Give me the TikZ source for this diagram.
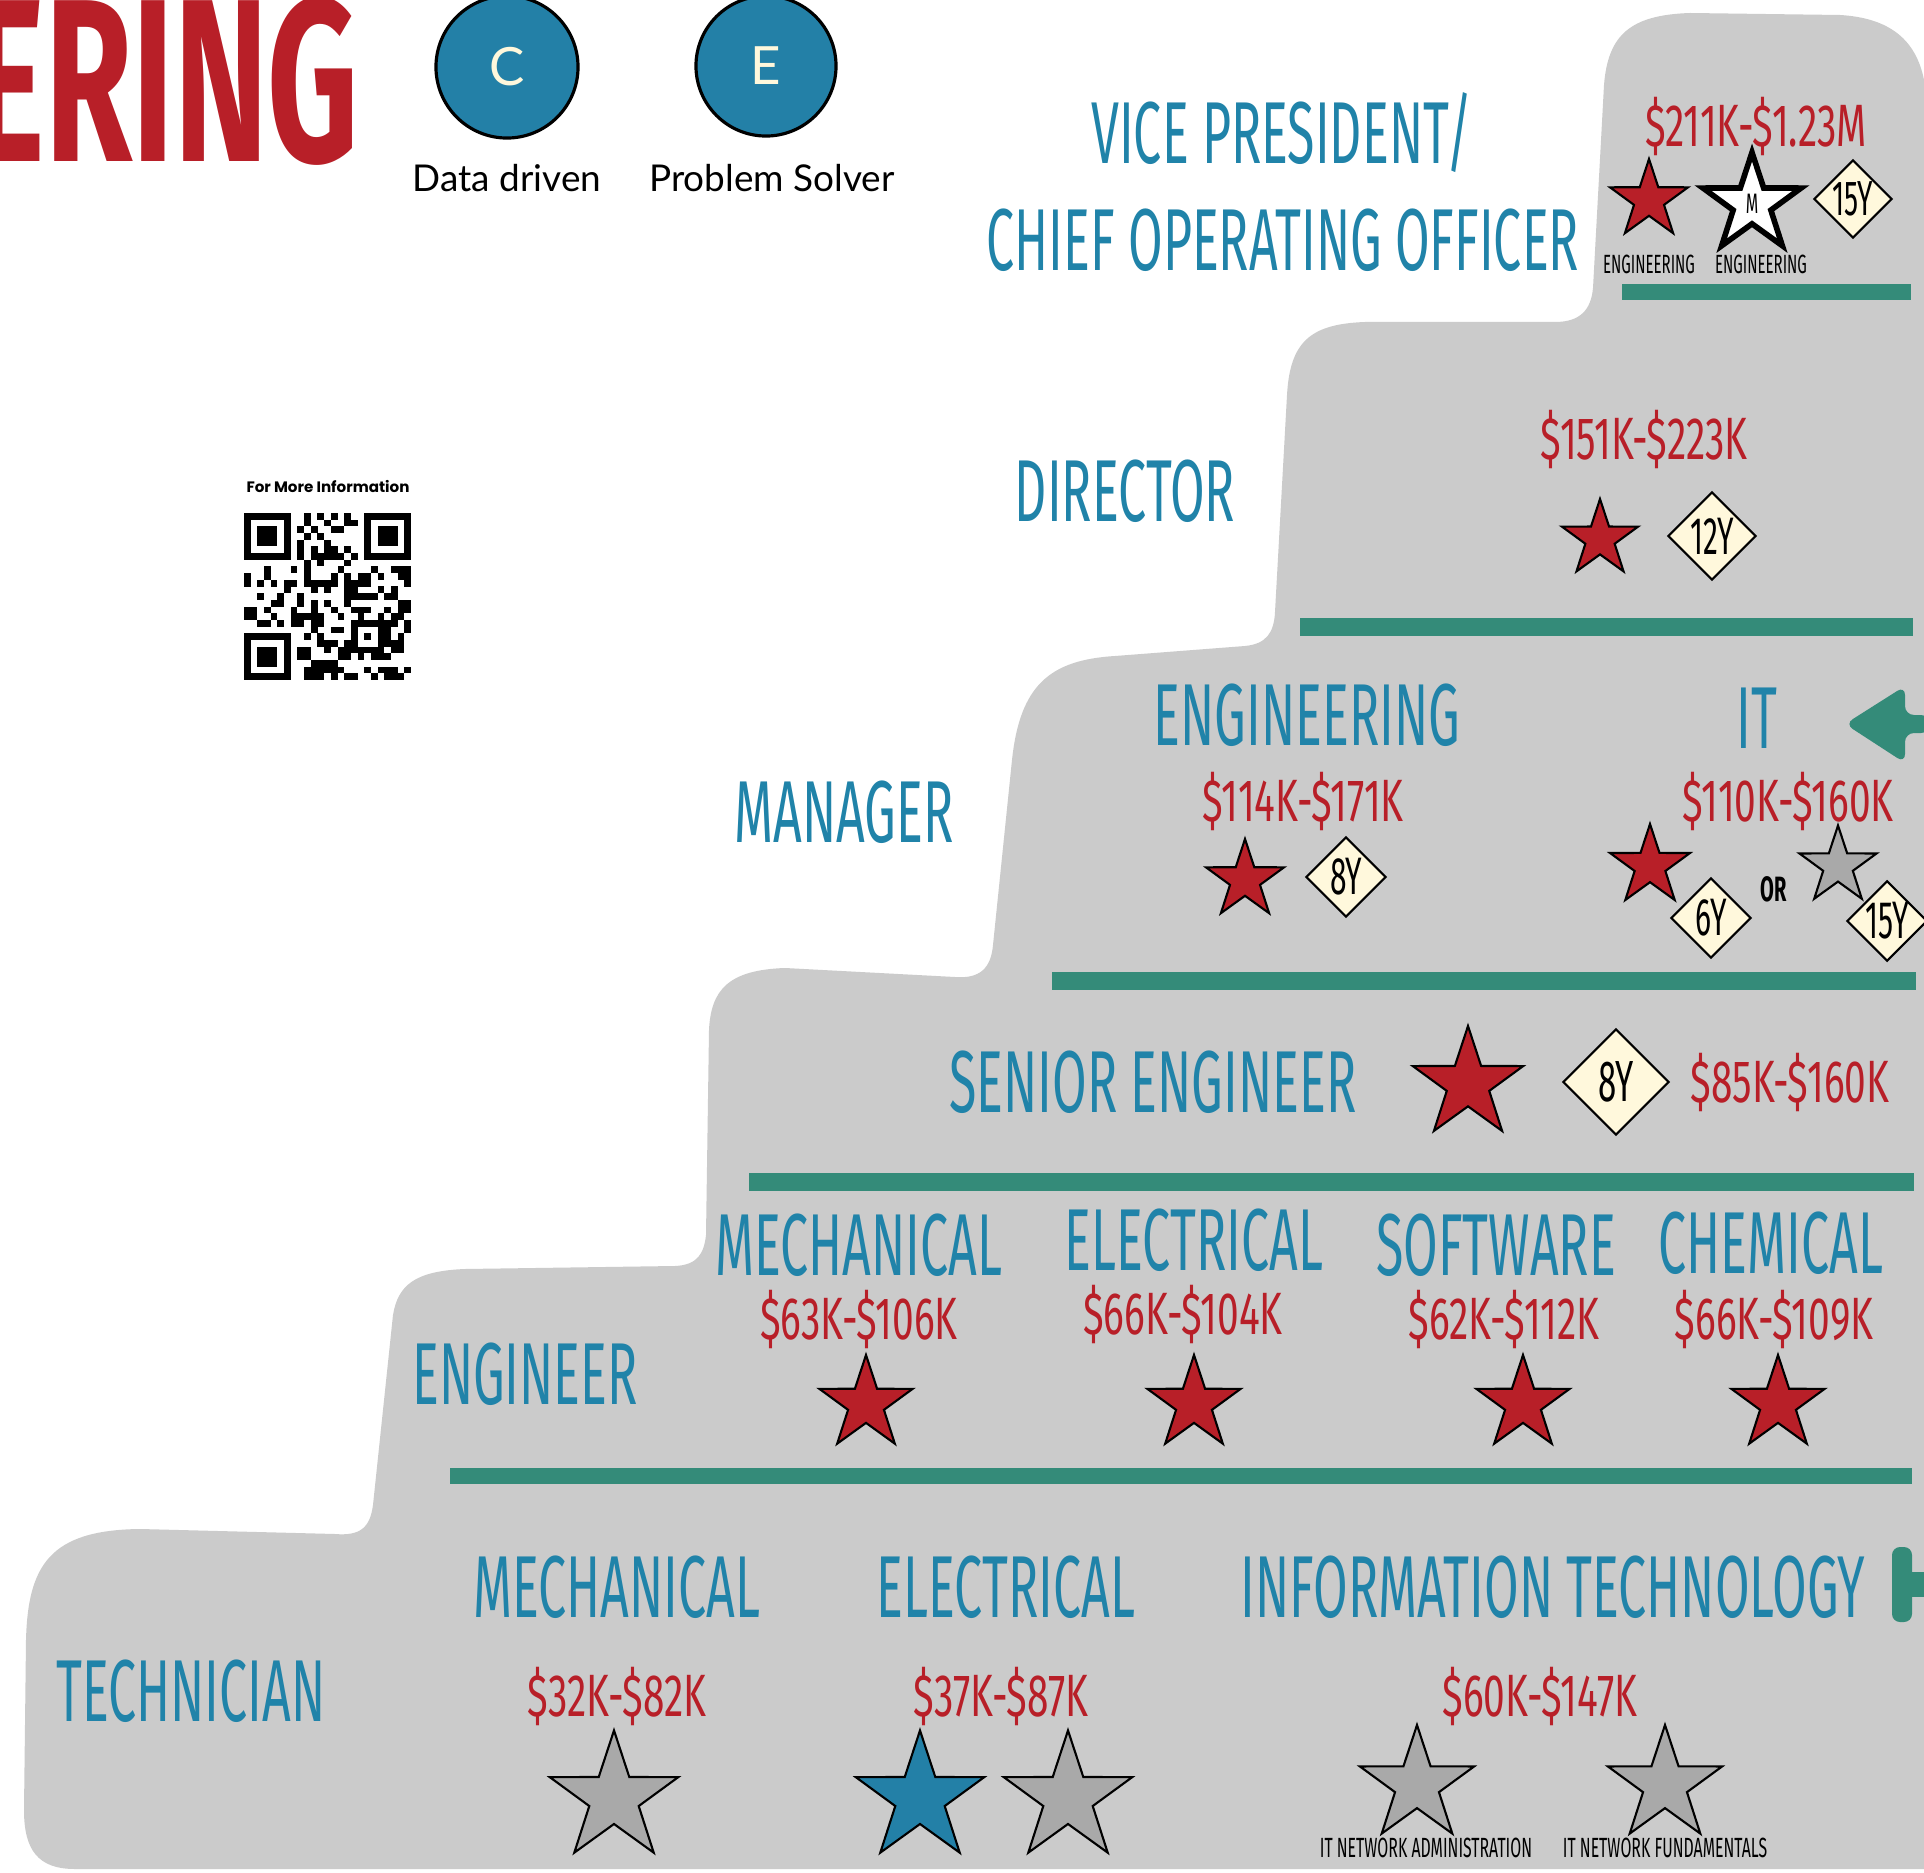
\documentclass[tikz,border=0pt]{standalone}
\usepackage{fontspec}
\setmainfont{Fira Sans}
\newfontfamily\narrowfont{Fira Sans}[FakeStretch=0.57]
\newfontfamily\payfont{Fira Sans}[FakeStretch=0.65]
\newfontfamily\headfont{Fira Sans}[FakeStretch=0.61]
\newfontfamily\traitfont{Lato}
\newfontfamily\qrfont{Poppins}
\usetikzlibrary{shapes.geometric}

\definecolor{stepgray}{HTML}{CBCBCB}
\definecolor{rankblue}{HTML}{2083A9}
\definecolor{payred}{HTML}{B81F28}
\definecolor{bargreen}{HTML}{348B79}
\definecolor{circblue}{HTML}{2380A7}
\definecolor{cream}{HTML}{FFF8DC}
\definecolor{stargray}{HTML}{A9A9A9}

\tikzset{
  ranktitle/.style={text=rankblue, inner sep=0pt, font=\narrowfont\fontsize{25}{30}\selectfont, text height=17.2pt, text depth=0pt},
  paytext/.style={text=payred, inner sep=0pt, font=\payfont\fontsize{17}{21}\selectfont, text height=11.7pt, text depth=0pt},
  starbadge/.style={star, star points=5, star point ratio=2.6, draw=black, line width=0.6pt, inner sep=0pt},
  yearbadge/.style={diamond, aspect=1, draw=black, line width=0.6pt, fill=cream, inner sep=0pt, font=\narrowfont\fontsize{15}{17}\selectfont},
  smalltag/.style={inner sep=0pt, font=\narrowfont\fontsize{7.5}{9}\selectfont},
  greenbar/.style={fill=bargreen},
  skillcircle/.style={circle, draw=black, line width=0.9pt, fill=circblue, text=cream, font=\traitfont\fontsize{15}{18}\selectfont, inner sep=0pt},
}

\begin{document}
\begin{tikzpicture}[x=0.01cm, y=-0.01cm]
\useasboundingbox (0,0) rectangle (1924,1873);
\clip (0,0) rectangle (1924,1873);
\fill[white] (0,0) rectangle (1924,1873);

% staircase
\fill[stepgray] (1924,1869) -- (75,1869)
  .. controls (38,1869) and (24,1850) .. (24,1810)
  -- (26,1640)
  .. controls (28,1565) and (50,1530) .. (140,1529)
  -- (335,1534)
  .. controls (360,1536) and (370,1528) .. (373,1505)
  -- (393,1315)
  .. controls (398,1285) and (415,1271) .. (465,1269)
  -- (675,1266)
  .. controls (698,1265) and (704,1253) .. (706,1235)
  -- (709,1030)
  .. controls (711,990) and (728,970) .. (785,968)
  -- (955,977)
  .. controls (980,979) and (991,968) .. (993,945)
  -- (1012,760)
  .. controls (1020,685) and (1050,660) .. (1115,656)
  -- (1245,646)
  .. controls (1266,644) and (1274,633) .. (1275,612)
  -- (1287,395)
  .. controls (1290,342) and (1310,324) .. (1365,322)
  -- (1555,322)
  .. controls (1580,322) and (1591,310) .. (1593,288)
  -- (1604,85)
  .. controls (1608,35) and (1630,15) .. (1690,13)
  -- (1840,15)
  .. controls (1890,18) and (1916,40) .. (1924,80)
  -- cycle;

% green bars
\fill[greenbar] (1622,284) rectangle (1911,300);
\fill[greenbar] (1300,618) rectangle (1913,636);
\fill[greenbar] (1052,972) rectangle (1916,990);
\fill[greenbar] (749,1173) rectangle (1914,1191);
\fill[greenbar] (450,1468) rectangle (1912,1484);
\fill[greenbar, rounded corners=0.9mm] (1930,715) -- (1905,715) -- (1905,686) -- (1845,724) -- (1905,763) -- (1905,733) -- (1930,733) -- cycle;
\fill[greenbar, rounded corners=0.8mm] (1892,1547) rectangle (1912,1622);
\fill[greenbar] (1905,1572) rectangle (1924,1597);

% header
\node[anchor=base east, inner sep=0pt, text=payred, font=\headfont\bfseries\fontsize{66}{70}\selectfont] (headWord) at (360,162) {ERING};
\node[skillcircle, minimum size=1.42cm] (traitC) at (507,67) {C};
\node[skillcircle, minimum size=1.40cm] (traitE) at (766,66) {E};
\node[inner sep=0pt, font=\traitfont\fontsize{10.5}{12}\selectfont] (traitCText) at (507,178) {Data driven};
\node[inner sep=0pt, font=\traitfont\fontsize{10.5}{12}\selectfont] (traitEText) at (772,178) {Problem Solver};

% qr code
\node[inner sep=0pt, font=\qrfont\bfseries\fontsize{4.3}{5}\selectfont] (qrNote) at (328,487) {For More Information};
\foreach \i in {0,...,24} {
  \foreach \j in {0,...,24} {
    \pgfmathtruncatemacro{\dark}{mod(mod(\i*\i*\j,97)+3*mod(\j*\j*\i,89)+5*\i+11*\j,9)<4}
    \pgfmathtruncatemacro{\finder}{or(or(and(\i<8,\j<8),and(\i>16,\j<8)),or(and(\i<8,\j>16),and(and(\i>15,\i<21),and(\j>15,\j<21))))}
    \ifnum\dark=1 \ifnum\finder=0
      \fill ({244+\i*6.68},{513+\j*6.68}) rectangle ++(6.7,6.7);
    \fi\fi
  }
}
\foreach \qx/\qy in {0/0,18/0,0/18} {
  \fill ({244+\qx*6.68},{513+\qy*6.68}) rectangle ++(46.76,46.76);
  \fill[white] ({244+(\qx+1)*6.68},{513+(\qy+1)*6.68}) rectangle ++(33.4,33.4);
  \fill ({244+(\qx+2)*6.68},{513+(\qy+2)*6.68}) rectangle ++(20.04,20.04);
}
\fill ({244+16*6.68},{513+16*6.68}) rectangle ++(33.4,33.4);
\fill[white] ({244+17*6.68},{513+17*6.68}) rectangle ++(20.04,20.04);
\fill ({244+18*6.68},{513+18*6.68}) rectangle ++(6.68,6.68);

% vice president
\node[ranktitle] (vpTitle) at (1282,133) {VICE PRESIDENT/};
\node[ranktitle] (cooTitle) at (1283,240) {CHIEF OPERATING OFFICER};
\node[paytext] (vpPay) at (1756,126) {\$211K-\$1.23M};
\node[starbadge, fill=payred, minimum size=0.82cm] (vpStar) at (1649,200) {};
\node[starbadge, fill=white, line width=1.6pt, minimum size=1.03cm, font=\narrowfont\fontsize{8}{9}\selectfont] (vpStarM) at (1752,204) {M};
\node[yearbadge, minimum size=0.78cm, font=\narrowfont\fontsize{14}{16}\selectfont] (vpYears) at (1853,199) {15Y};
\node[smalltag] (vpStarTag) at (1649,264) {ENGINEERING};
\node[smalltag] (vpStarMTag) at (1761,264) {ENGINEERING};

% director
\node[ranktitle] (dirTitle) at (1125,491) {DIRECTOR};
\node[paytext] (dirPay) at (1644,439) {\$151K-\$223K};
\node[starbadge, fill=payred, minimum size=0.80cm] (dirStar) at (1600,539) {};
\node[yearbadge, minimum size=0.88cm] (dirYears) at (1712,536) {12Y};

% manager
\node[ranktitle] (mgrTitle) at (844,812) {MANAGER};
\node[ranktitle] (mgrEng) at (1307,715) {ENGINEERING};
\node[ranktitle] (mgrIT) at (1757,718) {IT};
\node[paytext] (mgrEngPay) at (1303,801) {\$114K-\$171K};
\node[paytext] (mgrITPay) at (1788,801) {\$110K-\$160K};
\node[starbadge, fill=payred, minimum size=0.82cm] (mgrEngStar) at (1245,880) {};
\node[yearbadge, minimum size=0.80cm] (mgrEngYears) at (1346,877) {8Y};
\node[starbadge, fill=payred, minimum size=0.84cm] (mgrITStar) at (1650,866) {};
\node[yearbadge, minimum size=0.80cm] (mgrITYears) at (1711,918) {6Y};
\node[inner sep=0pt, font=\narrowfont\bfseries\fontsize{10}{12}\selectfont] (mgrOr) at (1774,889) {OR};
\node[starbadge, fill=stargray, minimum size=0.81cm] (mgrAltStar) at (1838,866) {};
\node[yearbadge, minimum size=0.80cm] (mgrAltYears) at (1887,921) {15Y};

% senior engineer
\node[ranktitle] (srTitle) at (1153,1082) {SENIOR ENGINEER};
\node[starbadge, fill=payred, minimum size=1.16cm] (srStar) at (1468,1084) {};
\node[yearbadge, minimum size=1.06cm, font=\narrowfont\fontsize{16.5}{19}\selectfont] (srYears) at (1616,1082) {8Y};
\node[paytext] (srPay) at (1790,1082) {\$85K-\$160K};

% engineer
\node[ranktitle] (engTitle) at (525,1374) {ENGINEER};
\node[ranktitle] (engMech) at (859,1245) {MECHANICAL};
\node[ranktitle] (engElec) at (1194,1240) {ELECTRICAL};
\node[ranktitle] (engSoft) at (1496,1245) {SOFTWARE};
\node[ranktitle] (engChem) at (1771,1243) {CHEMICAL};
\node[paytext] (engMechPay) at (859,1319) {\$63K-\$106K};
\node[paytext] (engElecPay) at (1183,1314) {\$66K-\$104K};
\node[paytext] (engSoftPay) at (1504,1319) {\$62K-\$112K};
\node[paytext] (engChemPay) at (1774,1319) {\$66K-\$109K};
\foreach \sx/\nm in {866/Mech,1194/Elec,1523/Soft,1778/Chem}
  \node[starbadge, fill=payred, minimum size=0.98cm] (engStar\nm) at (\sx,1404) {};

% technician
\node[ranktitle] (techTitle) at (191,1691) {TECHNICIAN};
\node[ranktitle] (techMech) at (617,1587) {MECHANICAL};
\node[ranktitle] (techElec) at (1006,1587) {ELECTRICAL};
\node[ranktitle] (techIT) at (1553,1587) {INFORMATION TECHNOLOGY};
\node[paytext] (techMechPay) at (617,1696) {\$32K-\$82K};
\node[paytext] (techElecPay) at (1001,1696) {\$37K-\$87K};
\node[paytext] (techITPay) at (1540,1696) {\$60K-\$147K};
\node[starbadge, fill=stargray, minimum size=1.35cm] (techMechStar) at (614,1798) {};
\node[starbadge, fill=circblue, minimum size=1.35cm] (techElecStarA) at (920,1798) {};
\node[starbadge, fill=stargray, minimum size=1.35cm] (techElecStarB) at (1068,1798) {};
\node[starbadge, fill=stargray, minimum size=1.2cm] (techITStarA) at (1417,1785) {};
\node[starbadge, fill=stargray, minimum size=1.2cm] (techITStarB) at (1665,1785) {};
\node[smalltag, font=\narrowfont\fontsize{7.9}{9}\selectfont] (techITTagA) at (1426,1848) {IT NETWORK ADMINISTRATION};
\node[smalltag, font=\narrowfont\fontsize{7.9}{9}\selectfont] (techITTagB) at (1665,1848) {IT NETWORK FUNDAMENTALS};
\end{tikzpicture}
\end{document}
